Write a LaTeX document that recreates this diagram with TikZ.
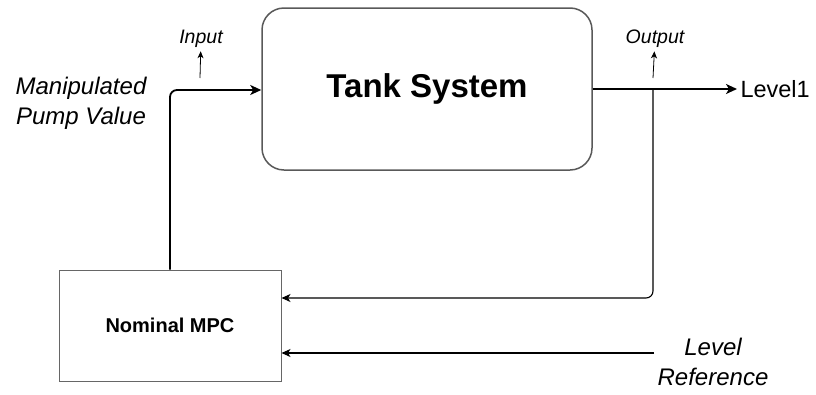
\documentclass[tikz,border=0pt]{standalone}
\usepackage{fontspec}
\setmainfont{Liberation Sans}
\usetikzlibrary{arrows.meta}

\tikzset{
    block/.style={draw=black!60, line width=1pt, align=center},
    sig/.style={-{Stealth[length=11pt,width=10pt,inset=3pt]}, line width=1.8pt, rounded corners=7pt},
    fb/.style={-{Stealth[length=9pt,width=8pt,inset=2.5pt]}, line width=1.1pt, rounded corners=7pt},
    tagtext/.style={font=\fontsize{19.5}{22}\selectfont\itshape},
    tagarrow/.style={-{Stealth[length=7pt,width=6pt,inset=2pt]}, line width=0.8pt},
    bigtext/.style={font=\fontsize{24}{30}\selectfont\itshape, align=center}
}

\begin{document}
\begin{tikzpicture}[x=1pt, y=-1pt]
        \useasboundingbox (0,0) rectangle (816,394);
        % blocks
        \node[block, draw=black!65, line width=1.5pt, rounded corners=22pt,
              minimum width=330pt, minimum height=162pt,
              font=\fontsize{33}{36}\selectfont\bfseries] (tank) at (427,89) {Tank System};
        \node[block, minimum width=222pt, minimum height=111pt,
              font=\fontsize{20}{22}\selectfont\bfseries] (mpc) at (170,325.5) {Nominal MPC};
        % labels
        \node[font=\fontsize{23.5}{30}\selectfont, anchor=west] (level) at (737,89) {Level1};
        \node[bigtext] (pump) at (81,103) {Manipulated\\Pump Value};
        \node[bigtext] (ref) at (713,362) {Level\\Reference};
        \node[tagtext] (intag) at (201,39) {Input};
        \node[tagtext] (outtag) at (655,39) {Output};
        % signal points
        \coordinate (tap) at (653,89);
        \coordinate (inbase) at (200,78);
        \coordinate (outbase) at (653,78);
        \coordinate (fbin) at ([yshift=27.5pt]mpc.east);
        \coordinate (refin) at ([yshift=-27.5pt]mpc.east);
        % connections
        \draw[sig] (mpc.north) |- ([yshift=-1pt]tank.west);
        \draw[sig] (tank.east) -- (level.west);
        \draw[fb] (tap) |- (fbin);
        \draw[fb] (ref.west |- refin) -- (refin);
        \draw[tagarrow] (inbase) -- (intag);
        \draw[tagarrow] (outbase) -- (outtag);
\end{tikzpicture}
\end{document}
